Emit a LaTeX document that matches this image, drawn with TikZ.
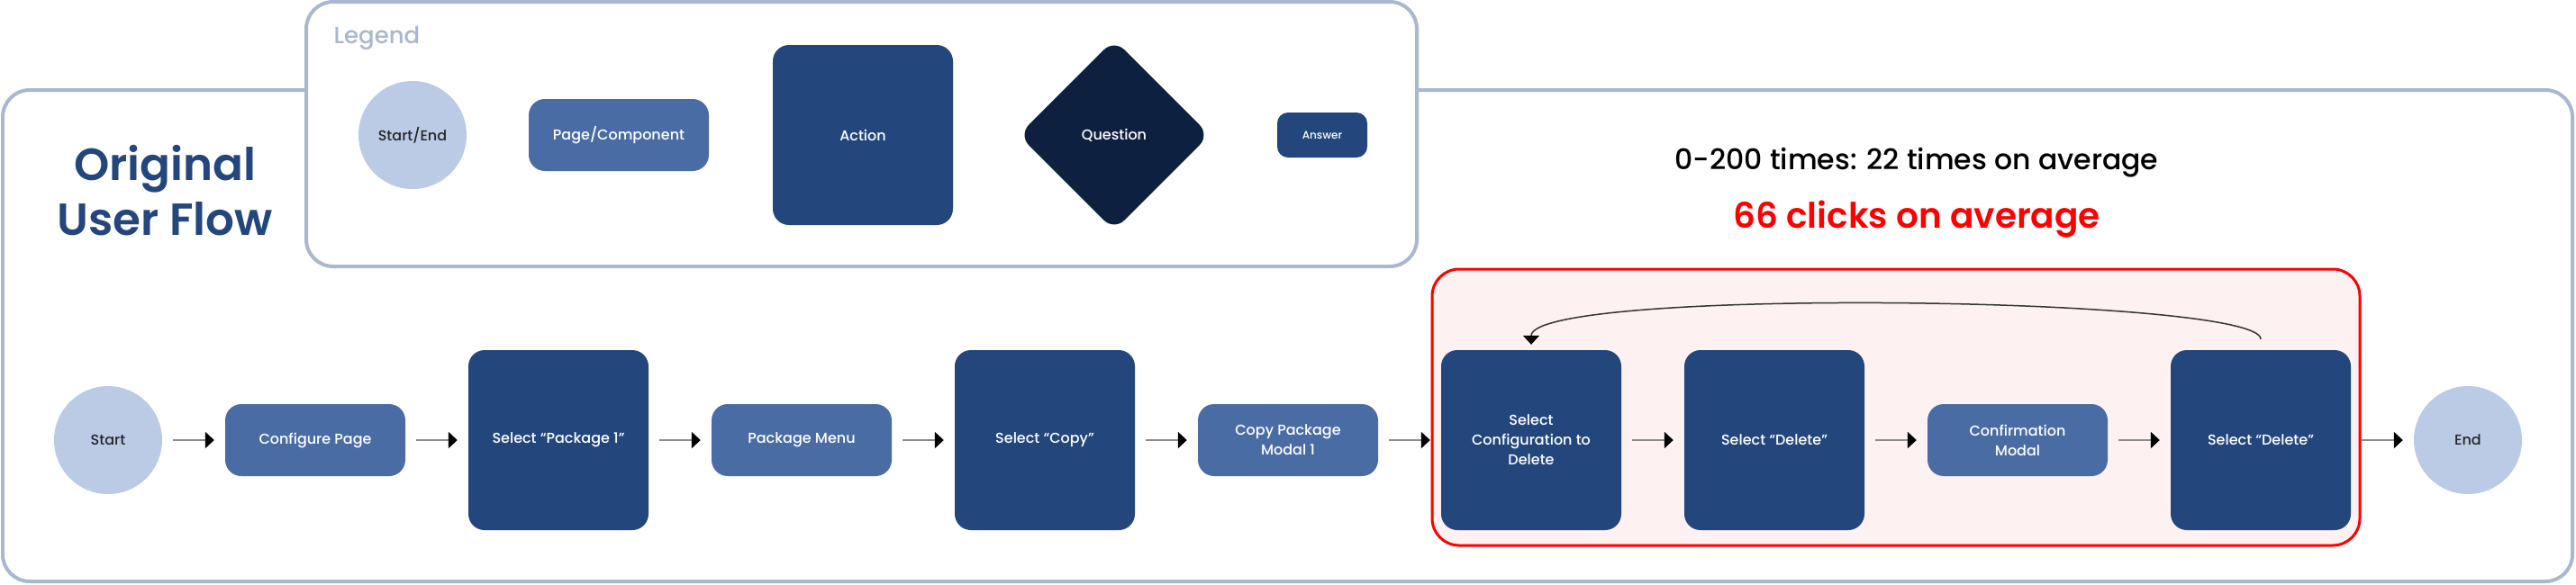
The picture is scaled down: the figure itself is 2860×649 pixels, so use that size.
\documentclass[tikz,border=0pt]{standalone}
\usepackage{fontspec}
\setmainfont{Poppins}[FontFace={mb}{n}{Font=Poppins Medium},FontFace={sb}{n}{Font=Poppins SemiBold}]
\usetikzlibrary{arrows.meta}
\definecolor{frameblue}{HTML}{A9B8CE}
\definecolor{lightnode}{HTML}{BBCBE6}
\definecolor{pagenode}{HTML}{4A6CA5}
\definecolor{actnode}{HTML}{23467D}
\definecolor{qnode}{HTML}{0E203F}
\definecolor{loopfill}{HTML}{FDF1F1}

\begin{document}
\begin{tikzpicture}[x=1pt,y=-1pt,font=\fontseries{mb}\fontsize{16}{22}\selectfont,termbox/.style={circle, fill=lightnode, minimum size=120pt, inner sep=0pt, text=black!85},pagebox/.style={rectangle, rounded corners=18pt, fill=pagenode, text=white, minimum width=200pt, minimum height=80pt, inner sep=0pt, align=center},actbox/.style={pagebox, fill=actnode, minimum height=200pt},flow/.style={draw=gray!90, line width=2.5pt, -{Triangle[length=10pt,width=18pt,color=black]}, shorten <=12pt, shorten >=12pt},backarrow/.style={draw=black!80, line width=1.5pt, -{Triangle[length=10pt,width=18pt,color=black]}, shorten <=12pt, shorten >=6pt},panel/.style={draw=frameblue, line width=4pt, rounded corners=30pt}]
\useasboundingbox (0,0) rectangle (2860,649);
% frames
\draw[panel] (3,100) rectangle (2856,646);
\draw[panel, fill=white] (340,2) rectangle (1573,296);
\draw[draw=red, fill=loopfill, line width=3pt, rounded corners=30pt] (1590,299) rectangle (2620,606);
% legend
\node[anchor=west, text=frameblue, font=\fontseries{mb}\fontsize{26}{30}\selectfont] (legendlbl) at (367,42) {Legend};
\node[termbox] (lgterm) at (458,150) {Start/End};
\node[pagebox] (lgpage) at (687,150) {Page/Component};
\node[actbox] (lgact) at (958,150) {Action};
\node[rotate=45, fill=qnode, rounded corners=16pt, minimum size=150pt] (lgq) at (1237,150) {};
\node[text=white] (lgqtext) at (lgq) {Question};
\node[pagebox, fill=actnode, minimum width=100pt, minimum height=50pt, rounded corners=12pt, font=\fontseries{mb}\fontsize{12}{14}\selectfont] (lgans) at (1468,150) {Answer};
% titles
\node[text=actnode, font=\fontseries{sb}\fontsize{50}{61}\selectfont, align=center] (title) at (183,212) {Original\\User Flow};
\node[font=\fontseries{mb}\fontsize{31.5}{36}\selectfont] (times) at (2128,181) {0-200 times: 22 times on average};
\node[text=red, font=\fontseries{sb}\fontsize{39}{44}\selectfont] (clicks) at (2128,244) {66 clicks on average};
% flow
\node[termbox] (start) at (120,489) {Start};
\node[pagebox] (cfg) at (350,489) {Configure Page};
\node[actbox] (pkg) at (620,489) {Select “Package 1”};
\node[pagebox] (menu) at (890,489) {Package Menu};
\node[actbox] (copy) at (1160,489) {Select “Copy”};
\node[pagebox] (modal) at (1430,489) {Copy Package\\Modal 1};
\node[actbox] (sel) at (1700,489) {Select\\Configuration to\\Delete};
\node[actbox] (del) at (1970,489) {Select “Delete”};
\node[pagebox] (conf) at (2240,489) {Confirmation\\Modal};
\node[actbox] (deltwo) at (2510,489) {Select “Delete”};
\node[termbox] (end) at (2740,489) {End};
\foreach \a/\b in {start/cfg,cfg/pkg,pkg/menu,menu/copy,copy/modal,modal/sel,sel/del,del/conf,conf/deltwo,deltwo/end}\draw[flow] (\a) -- (\b);
\draw[backarrow] (deltwo.north) .. controls +(0,-60) and +(0,-70) .. (sel.north);
\end{tikzpicture}
\end{document}
